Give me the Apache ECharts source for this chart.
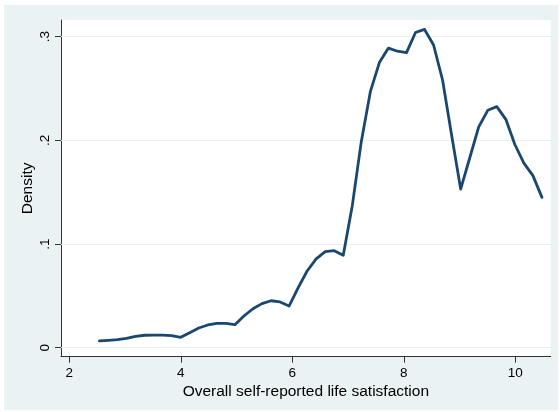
<!DOCTYPE html>
<html>
<head>
<meta charset="utf-8">
<script src="https://cdn.jsdelivr.net/npm/echarts@6/dist/echarts.min.js"></script>
<style>
  html, body { margin: 0; padding: 0; background: #ffffff; }
  #chart { width: 560px; height: 412px; }
</style>
</head>
<body>
<div id="chart"></div>
<script>
// Kernel density estimate of life satisfaction: evaluation grid and density values
const xGrid = [
  2.540, 2.702, 2.864, 3.026, 3.188, 3.350, 3.512, 3.674, 3.836, 3.998,
  4.160, 4.322, 4.484, 4.646, 4.808, 4.970, 5.132, 5.294, 5.456, 5.618,
  5.780, 5.942, 6.104, 6.266, 6.428, 6.590, 6.752, 6.914, 7.076, 7.238,
  7.400, 7.562, 7.724, 7.886, 8.048, 8.210, 8.372, 8.534, 8.696, 8.858,
  9.020, 9.182, 9.344, 9.506, 9.668, 9.830, 9.992, 10.154, 10.316, 10.478
];
const density = [
  0.0065, 0.0071, 0.0077, 0.0090, 0.0110, 0.0120, 0.0122, 0.0122, 0.0116, 0.0100,
  0.0145, 0.0190, 0.0219, 0.0235, 0.0235, 0.0222, 0.0306, 0.0376, 0.0425, 0.0453,
  0.0441, 0.0402, 0.0577, 0.0740, 0.0856, 0.0926, 0.0936, 0.0891, 0.1370, 0.1990,
  0.2470, 0.2750, 0.2890, 0.2860, 0.2846, 0.3040, 0.3070, 0.2920, 0.2580, 0.2050,
  0.1530, 0.1830, 0.2130, 0.2290, 0.2325, 0.2203, 0.1960, 0.1780, 0.1660, 0.1450
];

// Axis ticks and their printed labels
const xTickValues = [2, 4, 6, 8, 10];
const yTickValues = [0, 0.1, 0.2, 0.3];
const yTickLabels = ['0', '.1', '.2', '.3'];

const xTitle = 'Overall self-reported life satisfaction';
const yTitle = 'Density';

const FONT = '"Liberation Sans", Arial, Helvetica, sans-serif';
const LINE_COLOR = '#1A476F';
const BG_COLOR = '#EAF2F3';
const GRID_COLOR = '#E8F0F1';
const AXIS_COLOR = '#333333';

const chart = echarts.init(document.getElementById('chart'), null, { renderer: 'canvas' });

const points = xGrid.map((x, i) => [x, density[i]]);

function yLabel(v) {
  const k = yTickValues.findIndex(t => Math.abs(t - v) < 1e-9);
  return k >= 0 ? yTickLabels[k] : '';
}

chart.setOption({
  animation: false,
  backgroundColor: '#ffffff',
  graphic: [{
    type: 'rect',
    z: -10,
    silent: true,
    shape: { x: 4, y: 5, width: 554, height: 405 },
    style: { fill: BG_COLOR }
  }],
  grid: {
    left: 61, top: 20, width: 489.7, height: 336.7,
    show: true, backgroundColor: '#ffffff', borderWidth: 0
  },
  xAxis: {
    type: 'value',
    min: 1.851, max: 10.635,
    name: xTitle,
    nameLocation: 'middle',
    nameGap: 27,
    nameMoveOverlap: false,
    nameTextStyle: { fontFamily: FONT, fontSize: 15.5, color: '#000' },
    axisLine: { show: true, onZero: false, lineStyle: { color: AXIS_COLOR, width: 1 } },
    axisTick: { show: true, length: 6, customValues: xTickValues, lineStyle: { color: AXIS_COLOR } },
    axisLabel: {
      customValues: xTickValues, margin: 10,
      fontFamily: FONT, fontSize: 13.5, color: '#000'
    },
    splitLine: { show: false }
  },
  yAxis: {
    type: 'value',
    min: -0.00868, max: 0.3161,
    name: yTitle,
    nameLocation: 'middle',
    nameGap: 25.5,
    nameRotate: 90,
    nameMoveOverlap: false,
    nameTextStyle: { fontFamily: FONT, fontSize: 15.5, color: '#000' },
    axisLine: { show: true, onZero: false, lineStyle: { color: AXIS_COLOR, width: 1 } },
    axisTick: { show: true, length: 6, customValues: yTickValues, lineStyle: { color: AXIS_COLOR } },
    axisLabel: {
      customValues: yTickValues, margin: 9, rotate: 90,
      fontFamily: FONT, fontSize: 13.5, color: '#000',
      formatter: yLabel
    },
    splitLine: { show: false }
  },
  series: [
    {
      // horizontal reference lines at the y ticks
      type: 'line',
      data: [],
      silent: true,
      z: 1,
      markLine: {
        z: 1,
        silent: true,
        symbol: ['none', 'none'],
        label: { show: false },
        lineStyle: { color: GRID_COLOR, width: 1.2, type: 'solid' },
        data: yTickValues.map(v => ({ yAxis: v }))
      }
    },
    {
      type: 'line',
      data: points,
      z: 3,
      showSymbol: false,
      symbol: 'none',
      smooth: false,
      lineStyle: { color: LINE_COLOR, width: 2.8, join: 'round', cap: 'round' }
    }
  ]
});
</script>
</body>
</html>
